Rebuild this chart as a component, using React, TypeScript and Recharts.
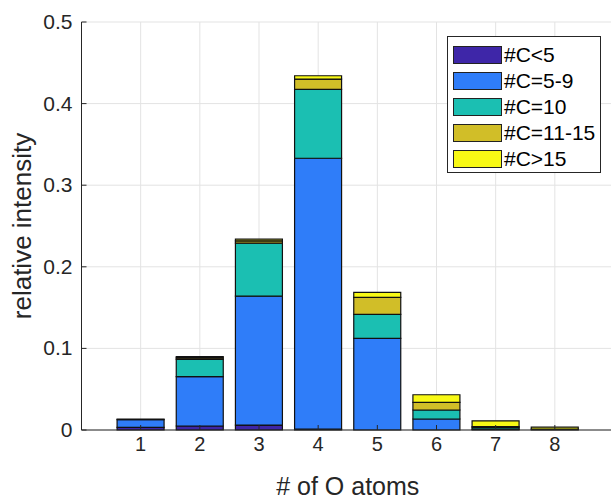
import React from 'react';
import { BarChart, Bar, XAxis, YAxis, CartesianGrid, Legend } from 'recharts';

// number of O atoms per molecule
const oAtoms = [1, 2, 3, 4, 5, 6, 7, 8];

// relative intensity per carbon-number group (stacked bottom to top)
const cLess5 = [0.0033, 0.0049, 0.006, 0.001, 0, 0, 0, 0];
const c5to9 = [0.0095, 0.0604, 0.158, 0.332, 0.1124, 0.0135, 0.0008, 0];
const c10 = [0.0005, 0.0213, 0.065, 0.0845, 0.0294, 0.011, 0.002, 0];
const c11to15 = [0, 0.0017, 0.0028, 0.0126, 0.0208, 0.0094, 0.0015, 0.001];
const cMore15 = [0, 0.0015, 0.002, 0.004, 0.006, 0.0093, 0.007, 0.0025];

const xTicks = [1, 2, 3, 4, 5, 6, 7, 8];
const yTicks = [0, 0.1, 0.2, 0.3, 0.4, 0.5];

const series = [
  { key: 'lt5', name: '#C<5', color: '#3E26A8', values: cLess5 },
  { key: 'c59', name: '#C=5-9', color: '#2F7DF9', values: c5to9 },
  { key: 'c10', name: '#C=10', color: '#1BBFB2', values: c10 },
  { key: 'c1115', name: '#C=11-15', color: '#D1BE28', values: c11to15 },
  { key: 'gt15', name: '#C>15', color: '#F8F915', values: cMore15 },
];

const chartData = oAtoms.map((o, i) => {
  const row: any = { o };
  series.forEach(s => { row[s.key] = s.values[i]; });
  return row;
});

const AXIS = '#262626';
const FONT = 'Liberation Sans, Arial, sans-serif';

const BottomTick = (props: any) => {
  const { x, y, payload } = props;
  return (
    <g>
      <line x1={x} y1={y} x2={x} y2={y - 5} stroke={AXIS} strokeWidth={1} />
      <text x={x} y={y + 21} textAnchor="middle" fontSize={20} fill={AXIS} fontFamily={FONT}>
        {payload.value}
      </text>
    </g>
  );
};

const TopTick = (props: any) => {
  const { x, y } = props;
  return <line x1={x} y1={y} x2={x} y2={y + 5} stroke={AXIS} strokeWidth={1} />;
};

const LeftTick = (props: any) => {
  const { x, y, payload } = props;
  return (
    <g>
      <line x1={x} y1={y} x2={x + 5} y2={y} stroke={AXIS} strokeWidth={1} />
      <text x={x - 9} y={y + 7} textAnchor="end" fontSize={21} fill={AXIS} fontFamily={FONT}>
        {payload.value}
      </text>
    </g>
  );
};

const LegendBox = () => (
  <div
    style={{
      position: 'absolute', left: 447, top: 36, width: 154, height: 137,
      border: `1px solid ${AXIS}`, background: 'white', fontFamily: FONT,
      boxSizing: 'border-box', padding: '5px 0 0 5px',
    }}
  >
    {series.map(s => (
      <div key={s.key} style={{ display: 'flex', alignItems: 'center', height: 26 }}>
        <div style={{ width: 49, height: 18, background: s.color, border: '1px solid #222', boxSizing: 'border-box' }} />
        <span style={{ marginLeft: 2, fontSize: 21, color: '#000' }}>{s.name}</span>
      </div>
    ))}
  </div>
);

const App: React.FC = () => {
  return (
    <div style={{ position: 'absolute', left: 0, top: 0, width: 611, height: 500, overflow: 'hidden', background: 'white' }}>
      <BarChart width={620} height={500} data={chartData} margin={{ top: 22, right: 6, bottom: 0, left: 0 }}>
        <CartesianGrid stroke="#e3e3e3" vertical={true} horizontal={true} />
        <XAxis
          dataKey="o"
          type="number"
          domain={[0, 9]}
          ticks={xTicks}
          interval={0}
          tickSize={0}
          tickMargin={0}
          tick={<BottomTick />}
          axisLine={{ stroke: AXIS }}
          tickLine={false}
          height={70}
          label={{ value: '# of O atoms', position: 'insideBottom', offset: 5, fontSize: 25, fill: AXIS, fontFamily: FONT }}
        />
        <XAxis
          xAxisId="top"
          orientation="top"
          dataKey="o"
          type="number"
          domain={[0, 9]}
          ticks={xTicks}
          interval={0}
          tickSize={0}
          tickMargin={0}
          tick={<TopTick />}
          axisLine={{ stroke: AXIS }}
          tickLine={false}
          height={0}
        />
        <YAxis
          type="number"
          domain={[0, 0.5]}
          ticks={yTicks}
          interval={0}
          width={81.5}
          tickSize={0}
          tickMargin={0}
          tick={<LeftTick />}
          axisLine={{ stroke: AXIS }}
          tickLine={false}
          label={{ value: 'relative intensity', angle: -90, position: 'insideLeft', offset: 22, fontSize: 26, fill: AXIS, fontFamily: FONT, style: { textAnchor: 'middle' } }}
        />
        <Legend content={<LegendBox />} wrapperStyle={{ position: 'absolute', left: 0, top: 0, width: 0, height: 0 }} />
        {series.map(s => (
          <Bar
            key={s.key}
            dataKey={s.key}
            name={s.name}
            stackId="a"
            fill={s.color}
            stroke="#111"
            strokeWidth={1.2}
            barSize={47}
            isAnimationActive={false}
          />
        ))}
      </BarChart>
    </div>
  );
};

export default App;
